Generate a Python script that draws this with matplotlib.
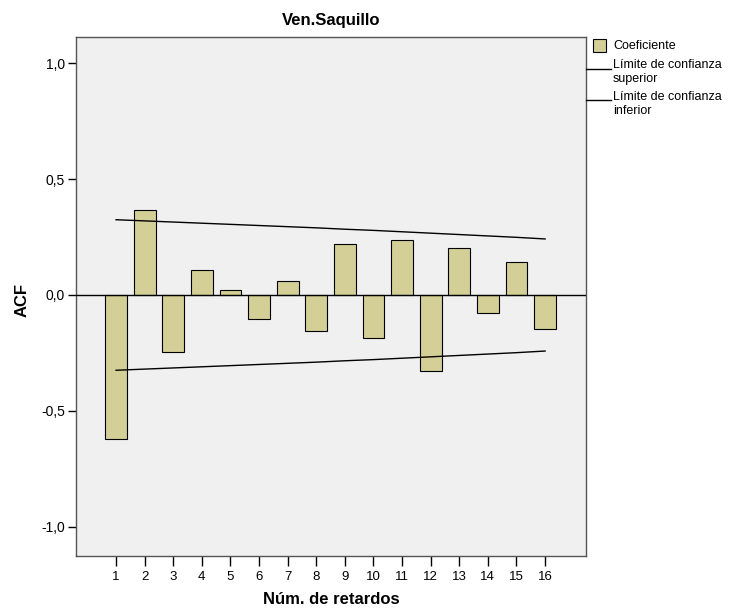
import matplotlib
matplotlib.use('Agg')
import matplotlib.pyplot as plt
from matplotlib.patches import Rectangle
from matplotlib.lines import Line2D

plt.rcParams['font.family'] = ['Liberation Sans', 'DejaVu Sans']

# ── Datos ──
lags  = [1, 2, 3, 4, 5, 6, 7, 8, 9, 10, 11, 12, 13, 14, 15, 16]
acf   = [-0.620, 0.365, -0.248, 0.107, 0.022, -0.104, 0.061, -0.157,
         0.219, -0.186, 0.239, -0.330, 0.201, -0.076, 0.143, -0.147]
upper = [0.325, 0.320, 0.315, 0.310, 0.305, 0.300, 0.295, 0.290,
         0.284, 0.279, 0.273, 0.267, 0.261, 0.255, 0.249, 0.242]
lower = [-0.325, -0.320, -0.315, -0.310, -0.305, -0.300, -0.295, -0.290,
         -0.284, -0.279, -0.273, -0.267, -0.261, -0.255, -0.249, -0.242]
yticks      = [-1.0, -0.5, 0.0, 0.5, 1.0]
ytick_lbls  = ['-1,0', '-0,5', '0,0', '0,5', '1,0']

W, H = 734, 610
fig = plt.figure(figsize=(W/100, H/100), dpi=100)
ax  = fig.add_axes([76/W, 1-556/H, (586-76)/W, (556-37)/H])
ax.set_facecolor('#f0f0f0')

bar_col = '#d4cf97'
ax.bar(lags, acf, width=0.76, color=bar_col, edgecolor='black', linewidth=0.8, zorder=2)
ax.axhline(0, color='black', linewidth=1.0, zorder=3)
ax.plot(lags, upper, color='black', linewidth=1.0, zorder=3)
ax.plot(lags, lower, color='black', linewidth=1.0, zorder=3)

ax.set_xlim(-0.4, 17.43)
ax.set_ylim(-1.127, 1.114)
ax.set_xticks(lags)
ax.set_xticklabels([str(l) for l in lags], fontsize=9.5)
ax.set_yticks(yticks)
ax.set_yticklabels(ytick_lbls, fontsize=10)
ax.tick_params(axis='x', direction='out', length=7, width=1, pad=4)
ax.tick_params(axis='y', direction='out', length=6, width=1, pad=2)
for s in ax.spines.values():
    s.set_color('#555555'); s.set_linewidth(1.0)

fig.text(331/W, 1-20/H, 'Ven.Saquillo', ha='center', va='center',
         fontsize=12, fontweight='bold')
fig.text(22/W, 1-300/H, 'ACF', ha='center', va='center', rotation=90,
         fontsize=12, fontweight='bold')
fig.text(331/W, 1-600/H, 'Núm. de retardos', ha='center', va='center',
         fontsize=12, fontweight='bold')

# ── Leyenda (fuera del área) ──
fig.patches.append(Rectangle((593/W, 1-52/H), 13/W, 13/H, transform=fig.transFigure,
                             facecolor=bar_col, edgecolor='black', linewidth=0.8))
fig.text(613/W, 1-46/H, 'Coeficiente', ha='left', va='center', fontsize=9)
fig.lines.append(Line2D([586/W, 611/W], [1-69/H, 1-69/H], transform=fig.transFigure,
                        color='black', linewidth=1.0))
fig.text(613/W, 1-72/H, 'Límite de confianza\nsuperior', ha='left', va='center',
         fontsize=9, linespacing=1.15)
fig.lines.append(Line2D([586/W, 611/W], [1-100/H, 1-100/H], transform=fig.transFigure,
                        color='black', linewidth=1.0))
fig.text(613/W, 1-104/H, 'Límite de confianza\ninferior', ha='left', va='center',
         fontsize=9, linespacing=1.15)

fig.savefig('out.png', dpi=100)
